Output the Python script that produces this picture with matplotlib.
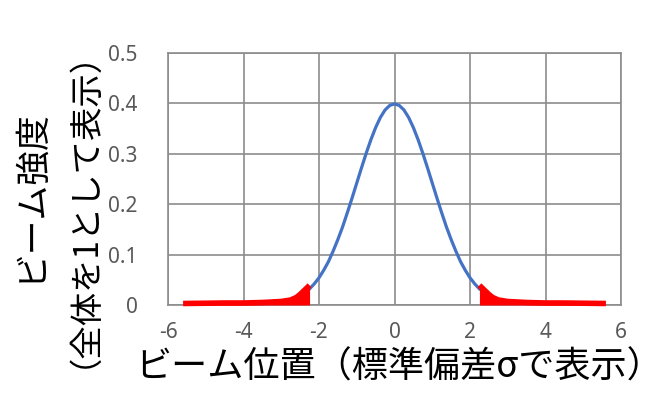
import matplotlib.pyplot as plt

plt.rcParams['font.family'] = ['Noto Sans CJK JP', 'DejaVu Sans']

# beam profile (blue part, centre)
pos_center = [-2.25, -2.125, -2.0, -1.875, -1.75, -1.625, -1.5, -1.375, -1.25, -1.125,
              -1.0, -0.875, -0.75, -0.625, -0.5, -0.375, -0.25, -0.125, 0.0,
              0.125, 0.25, 0.375, 0.5, 0.625, 0.75, 0.875, 1.0, 1.125, 1.25,
              1.375, 1.5, 1.625, 1.75, 1.875, 2.0, 2.125, 2.25]
inten_center = [0.032, 0.042, 0.054, 0.069, 0.086, 0.107, 0.130, 0.155, 0.183, 0.212,
                0.242, 0.272, 0.301, 0.328, 0.352, 0.372, 0.387, 0.396, 0.399,
                0.396, 0.387, 0.372, 0.352, 0.328, 0.301, 0.272, 0.242, 0.212, 0.183,
                0.155, 0.130, 0.107, 0.086, 0.069, 0.054, 0.042, 0.032]

# red tails
pos_left = [-5.6, -5.0, -4.5, -4.0, -3.5, -3.0, -2.75, -2.6, -2.5, -2.25]
inten_left = [0.0, 0.0005, 0.001, 0.001, 0.002, 0.004, 0.007, 0.012, 0.018, 0.036]
pos_right = [2.25, 2.5, 2.6, 2.75, 3.0, 3.5, 4.0, 4.5, 5.0, 5.6]
inten_right = [0.036, 0.018, 0.012, 0.007, 0.004, 0.002, 0.001, 0.001, 0.0005, 0.0]

xticks = [-6, -4, -2, 0, 2, 4, 6]
yticks = [0, 0.1, 0.2, 0.3, 0.4, 0.5]

fig = plt.figure(figsize=(6.66, 4.18), dpi=100)
ax = fig.add_axes([168 / 666, 1 - 305 / 418, (621 - 168) / 666, (305 - 53) / 418])

grid_col = '#8c8c8c'
ax.set_xlim(-6, 6)
ax.set_ylim(0, 0.5)
ax.set_xticks(xticks)
ax.set_yticks(yticks)
ax.set_xticklabels([str(t) for t in xticks], fontsize=15, fontfamily='Noto Sans')
ax.set_yticklabels(['0', '0.1', '0.2', '0.3', '0.4', '0.5'], fontsize=15,
                   fontfamily='Noto Sans')
ax.grid(True, color=grid_col, linewidth=1.2)
ax.set_axisbelow(True)
for s in ax.spines.values():
    s.set_color(grid_col)
    s.set_linewidth(1.2)
ax.tick_params(length=0, colors='#595959')
ax.tick_params(axis='x', pad=12)
ax.tick_params(axis='y', pad=22)

ax.plot(pos_center, inten_center, color='#4472C4', linewidth=2.3, zorder=3)

for px, py in [(pos_left, inten_left), (pos_right, inten_right)]:
    ax.fill_between(px, 0, py, color='red', linewidth=0, zorder=4, clip_on=False)
    ax.plot(px, [v + 0.003 for v in py], color='red', linewidth=4,
            solid_capstyle='butt', zorder=4, clip_on=False)

fig.text(399 / 666, 1 - 368 / 418, 'ビーム位置（標準偏差σで表示）',
         fontsize=26, ha='center', va='center', color='black')
fig.text(30 / 666, 1 - 195 / 418, 'ビーム強度', rotation=90,
         fontsize=25, ha='center', va='center', color='black')
fig.text(66 / 666, 1 - 192 / 418, '（全体を1として表示）', rotation=90,
         fontsize=24, ha='center', va='center', color='black')

fig.savefig('out.png', dpi=100)
